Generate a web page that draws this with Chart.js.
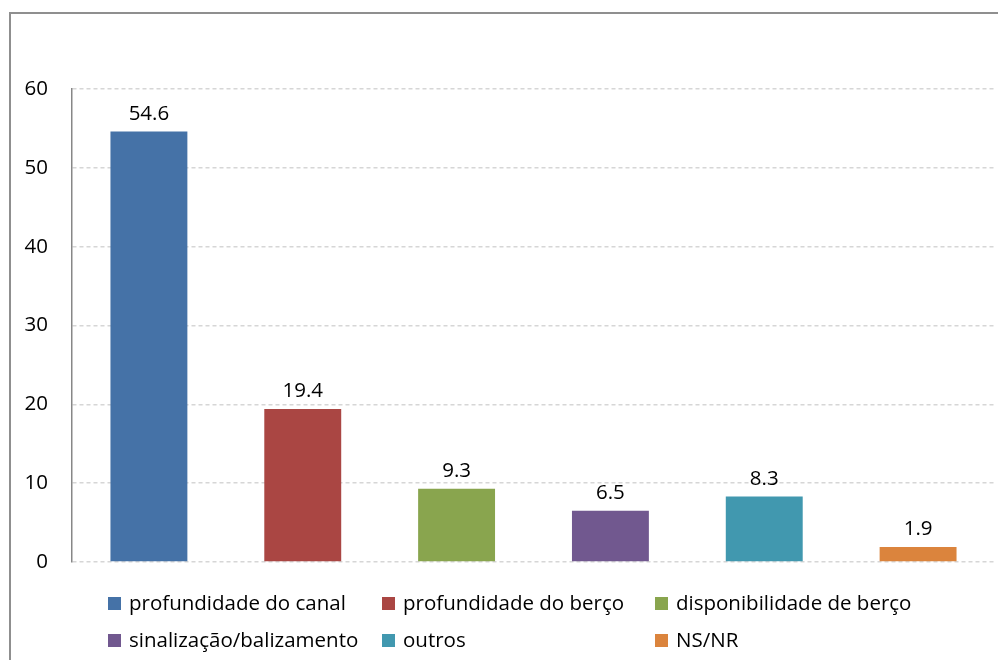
<!DOCTYPE html>
<html>
<head>
<meta charset="utf-8">
<script src="https://cdn.jsdelivr.net/npm/chart.js@4/dist/chart.umd.min.js"></script>
<style>
  html, body { margin: 0; padding: 0; background: #fff; overflow: hidden; }
  #wrap { position: relative; width: 998px; height: 660px; }
  #frame {
    position: absolute; left: 9px; top: 12px; width: 1100px; height: 800px;
    border-left: 2px solid #8f8f8f; border-top: 2px solid #8f8f8f;
    pointer-events: none;
  }
  canvas { position: absolute; left: 0; top: 0; }
</style>
</head>
<body>
<div id="wrap">
  <canvas id="chart" width="998" height="660"></canvas>
  <div id="frame"></div>
</div>
<script>
const categories = [
    "profundidade do canal",
    "profundidade do berço",
    "disponibilidade de berço",
    "sinalização/balizamento",
    "outros",
    "NS/NR",
];
const values = [54.6, 19.4, 9.3, 6.5, 8.3, 1.9];
const colors = ["#4572A7", "#AA4643", "#89A54E", "#71588F", "#4198AF", "#DB843D"];
const yTicks = [0, 10, 20, 30, 40, 50, 60];

const FONT = "'Open Sans', sans-serif";
const FONT_SIZE = 20.5;

// value labels above the bars
const valueLabels = {
    id: "valueLabels",
    afterDatasetsDraw(chart) {
        const ctx = chart.ctx;
        const meta = chart.getDatasetMeta(0);
        ctx.save();
        ctx.font = `${FONT_SIZE}px ${FONT}`;
        ctx.fillStyle = "#000";
        ctx.textAlign = "center";
        ctx.textBaseline = "alphabetic";
        meta.data.forEach((bar, i) => {
            ctx.fillText(values[i].toFixed(1), bar.x, bar.y - 12);
        });
        ctx.restore();
    },
};

// legend laid out as a 3-column grid under the plot
const gridLegend = {
    id: "gridLegend",
    afterDraw(chart) {
        const ctx = chart.ctx;
        const colX = [108, 382, 655];
        const rowY = [603, 640];
        ctx.save();
        ctx.font = `${FONT_SIZE}px ${FONT}`;
        ctx.textBaseline = "middle";
        categories.forEach((name, i) => {
            const x = colX[i % 3];
            const y = rowY[Math.floor(i / 3)];
            ctx.fillStyle = colors[i];
            ctx.fillRect(x, y - 6, 13, 13);
            ctx.fillStyle = "#000";
            ctx.fillText(name, x + 21, y + 1);
        });
        ctx.restore();
    },
};

new Chart(document.getElementById("chart").getContext("2d"), {
    type: "bar",
    data: {
        labels: categories,
        datasets: [{
            data: values,
            backgroundColor: colors,
            borderWidth: 0,
            barPercentage: 1,
            categoryPercentage: 0.5,
        }],
    },
    options: {
        events: [],
        animation: false,
        responsive: false,
        layout: { padding: { top: 89, bottom: 98, right: 3, left: 0 } },
        plugins: { legend: { display: false }, tooltip: { enabled: false } },
        scales: {
            x: { display: false },
            y: {
                min: 0,
                max: 60,
                afterFit(scale) { scale.width = 72; },
                afterBuildTicks(scale) { scale.ticks = yTicks.map(v => ({ value: v })); },
                ticks: {
                    padding: 24,
                    color: "#000",
                    font: { family: FONT, size: FONT_SIZE },
                },
                grid: { color: "#d6d6d6", lineWidth: 1.5, drawTicks: false },
                border: { display: true, color: "#878787", width: 1.5, dash: [4, 3] },
            },
        },
    },
    plugins: [valueLabels, gridLegend],
});
</script>
</body>
</html>
